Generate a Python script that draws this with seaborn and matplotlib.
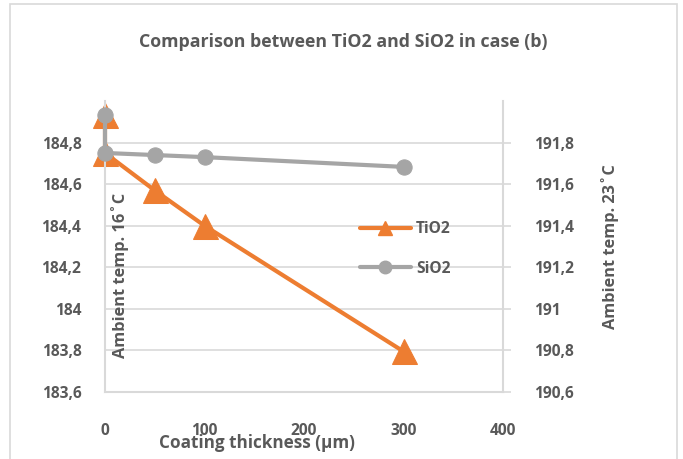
import matplotlib
matplotlib.use("Agg")
import matplotlib.pyplot as plt
import seaborn as sns
import pandas as pd
from matplotlib.patches import Rectangle
from matplotlib.lines import Line2D

# ---- data ----
thickness = [0, 0, 50, 100, 300]
tio2 = [184.935, 184.75, 184.57, 184.40, 183.795]
sio2 = [191.935, 191.75, 191.74, 191.73, 191.683]
left_ticks = [183.6, 183.8, 184.0, 184.2, 184.4, 184.6, 184.8]
right_ticks = [190.6, 190.8, 191.0, 191.2, 191.4, 191.6, 191.8]
x_ticks = [0, 100, 200, 300, 400]
title = "Comparison between TiO2 and SiO2 in case (b)"
xlabel = "Coating thickness (\u00b5m)"
left_label = "Ambient temp. 16\u02daC"
right_label = "Ambient temp. 23\u02daC"

sns.set_theme(style="white")
plt.rcParams['font.family'] = ['Open Sans', 'DejaVu Sans']
plt.rcParams['font.weight'] = 'bold'

TXT = "#595959"
ORANGE = "#ED7D31"
GRAY = "#A5A5A5"
GRID = "#D9D9D9"
FS = 11.2

fig = plt.figure(figsize=(6.83, 4.59), dpi=100)
ax = fig.add_axes([105/683, 1-392/459, (503-105)/683, (392-101)/459])
ax2 = ax.twinx()

df_t = pd.DataFrame({"x": thickness, "y": tio2})
df_s = pd.DataFrame({"x": thickness, "y": sio2})

sns.lineplot(data=df_t, x="x", y="y", ax=ax, estimator=None, sort=False,
             color=ORANGE, lw=3, marker="^", markersize=18,
             markeredgecolor=ORANGE, label="TiO2", legend=False, clip_on=False)
sns.lineplot(data=df_s, x="x", y="y", ax=ax2, estimator=None, sort=False,
             color=GRAY, lw=3, marker="o", markersize=11,
             markeredgecolor=GRAY, label="SiO2", legend=False, clip_on=False)

ax.set_xlim(0, 400)
ax.set_ylim(183.6, 185.0)
ax2.set_ylim(190.6, 192.0)
ax.set_xticks(x_ticks)
ax.set_yticks(left_ticks)
ax2.set_yticks(right_ticks)
ax.set_yticklabels([f"{v:g}".replace(".", ",") for v in left_ticks])
ax2.set_yticklabels([f"{v:g}".replace(".", ",") for v in right_ticks])
ax.set_xticklabels([str(v) for v in x_ticks])

ax.yaxis.grid(True, color=GRID, lw=1.2)
ax.xaxis.grid(False)
ax2.grid(False)
ax.set_xlabel("")
ax.set_ylabel("")
ax2.set_ylabel("")

for a in (ax, ax2):
    for s in a.spines.values():
        s.set_visible(False)
ax.spines['left'].set_visible(True)
ax.spines['left'].set_color(GRID)
ax.spines['left'].set_linewidth(1.5)
ax.spines['bottom'].set_visible(True)
ax.spines['bottom'].set_color(GRID)
ax.spines['bottom'].set_linewidth(1.5)
ax2.spines['right'].set_visible(True)
ax2.spines['right'].set_color(GRID)
ax2.spines['right'].set_linewidth(1.5)

ax.tick_params(axis='y', length=0, pad=17, labelsize=FS, labelcolor=TXT)
ax.tick_params(axis='x', length=0, pad=22, labelsize=FS, labelcolor=TXT)
ax2.tick_params(axis='y', length=6, width=1.2, color=GRID, pad=16,
                labelsize=FS, labelcolor=TXT)
for lab in ax.get_xticklabels() + ax.get_yticklabels() + ax2.get_yticklabels():
    lab.set_fontweight('bold')

fig.text(343/683, 1-42/459, title, ha='center', va='center', fontsize=12.8,
         color=TXT, fontweight='bold')
fig.text(257/683, 1-443/459, xlabel, ha='center', va='center', fontsize=12.3,
         color=TXT, fontweight='bold')
fig.text(120/683, 1-275/459, left_label, ha='center', va='center', rotation=90,
         fontsize=11.8, color=TXT, fontweight='bold')
fig.text(610/683, 1-247/459, right_label, ha='center', va='center', rotation=90,
         fontsize=11.8, color=TXT, fontweight='bold')

handles = [Line2D([], [], color=ORANGE, lw=3, marker="^", markersize=10),
           Line2D([], [], color=GRAY, lw=3, marker="o", markersize=9)]
leg = fig.legend(handles, ["TiO2", "SiO2"], loc='center left',
                 bbox_to_anchor=(352/683, 1-249/459), frameon=False,
                 prop={'size': FS, 'weight': 'bold'}, handlelength=3.3,
                 labelspacing=1.5, handletextpad=0.3, borderpad=0)
for t in leg.get_texts():
    t.set_color(TXT)

fig.patches.append(Rectangle((10/683, -0.05), (677-10)/683, 1.05-4/459,
                             transform=fig.transFigure, fill=False,
                             edgecolor=GRID, lw=1.2))

fig.savefig("out.png", dpi=100)
